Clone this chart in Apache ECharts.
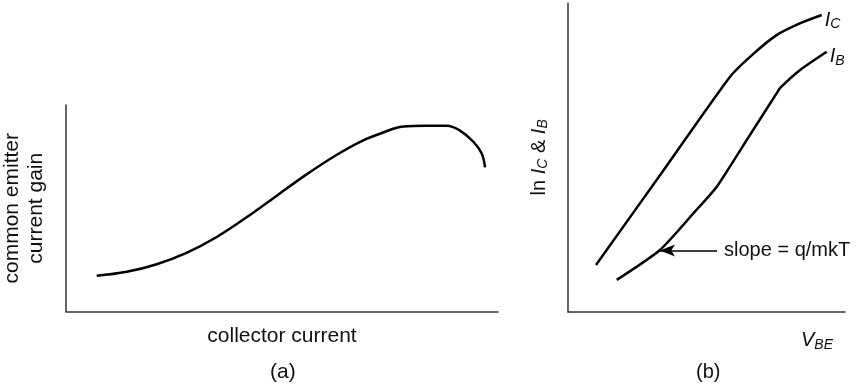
<!DOCTYPE html>
<html>
<head>
<meta charset="utf-8">
<script src="https://cdn.jsdelivr.net/npm/echarts@6/dist/echarts.min.js"></script>
<style>html,body{margin:0;padding:0;background:#fff}#c{width:861px;height:389px}</style>
</head>
<body>
<div id="c"></div>
<script>
// Panel (a): common emitter current gain vs collector current (arbitrary units 0-100)
var gainX = [7.1, 14.05, 21.0, 27.9, 34.9, 41.8, 48.8, 55.7, 62.7, 68.1, 72.7, 78.1, 83.1, 88.1, 91.2, 94.3, 96.2, 97.0];
var gainY = [17.3, 19.2, 22.9, 28.4, 36.1, 45.6, 56.1, 66.4, 75.9, 82.2, 86.1, 89.6, 90.0, 90.0, 87.6, 82.2, 76.6, 69.8];
// Panel (b): ln IC & ln IB vs VBE (arbitrary units 0-100)
var icX = [10.1, 34.3, 58.5, 66.0, 75.3, 83.7, 91.6];
var icY = [15.1, 45.6, 76.1, 82.8, 89.6, 93.4, 96.1];
var ibX = [17.6, 33.2, 45.8, 53.7, 64.5, 75.3, 76.5, 83.8, 93.4];
var ibY = [10.3, 20.0, 32.4, 40.5, 55.6, 70.7, 72.4, 78.3, 84.2];
// Slope annotation arrow (tip, tail) in panel (b) units
var arrowX = [33.2, 53.8];
var arrowY = [19.8, 19.8];

var FONT = 'Liberation Sans';
function pairs(xs, ys){ return xs.map(function(x,i){ return [x, ys[i]]; }); }
var axisLine = {show:true, lineStyle:{color:'#333', width:1.5}};
var hidden = {axisTick:{show:false}, axisLabel:{show:false}, splitLine:{show:false}};
var subRich = {
  n:{fontFamily:FONT, fontSize:20, color:'#111', lineHeight:22, verticalAlign:'middle'},
  i:{fontFamily:FONT, fontSize:20, color:'#111', fontStyle:'italic', lineHeight:22, verticalAlign:'middle'},
  s:{fontFamily:FONT, fontSize:14, color:'#111', fontStyle:'italic', lineHeight:10, verticalAlign:'bottom'}
};

var chart = echarts.init(document.getElementById('c'), null, {renderer:'canvas'});
chart.setOption({
  animation:false,
  backgroundColor:'#fff',
  textStyle:{fontFamily:FONT},
  grid:[
    {left:66, top:105, width:432, height:206.5, containLabel:false, outerBoundsMode:'none'},
    {left:568, top:3, width:277, height:308.7, containLabel:false, outerBoundsMode:'none'}
  ],
  xAxis:[
    Object.assign({type:'value', gridIndex:0, min:0, max:100, axisLine:axisLine,
      name:'collector current', nameLocation:'middle', nameGap:14,
      nameTextStyle:{fontFamily:FONT, fontSize:21, color:'#111', verticalAlign:'top'}}, hidden),
    Object.assign({type:'value', gridIndex:1, min:0, max:100, axisLine:axisLine,
      name:'{i|V}{s|BE}', nameLocation:'end', nameGap:-12,
      nameTextStyle:{align:'right', verticalAlign:'top', padding:[18,0,0,0], rich:subRich}}, hidden)
  ],
  yAxis:[
    Object.assign({type:'value', gridIndex:0, min:0, max:100, axisLine:axisLine,
      name:'common emitter\ncurrent gain', nameLocation:'middle', nameGap:18, nameRotate:90,
      nameTextStyle:{fontFamily:FONT, fontSize:21, color:'#111', lineHeight:24}}, hidden),
    Object.assign({type:'value', gridIndex:1, min:0, max:100, axisLine:axisLine,
      name:'{n|ln }{i|I}{s|C}{n| & }{i|I}{s|B}', nameLocation:'middle', nameGap:18, nameRotate:90,
      nameTextStyle:{rich:subRich}}, hidden)
  ],
  series:[
    {type:'line', xAxisIndex:0, yAxisIndex:0, data:pairs(gainX, gainY), smooth:0.4,
      showSymbol:false, lineStyle:{color:'#000', width:2.5}},
    {type:'line', xAxisIndex:1, yAxisIndex:1, data:pairs(icX, icY), smooth:0.2,
      showSymbol:false, lineStyle:{color:'#000', width:2.5},
      endLabel:{show:true, formatter:'{i|I}{s|C}', distance:3, offset:[0,5], rich:subRich}},
    {type:'line', xAxisIndex:1, yAxisIndex:1, data:pairs(ibX, ibY), smooth:0.2,
      showSymbol:false, lineStyle:{color:'#000', width:2.5},
      endLabel:{show:true, formatter:'{i|I}{s|B}', distance:3, offset:[0,5], rich:subRich},
      markLine:{silent:true, animation:false,
        lineStyle:{color:'#000', width:1.5, type:'solid'},
        label:{show:true, position:'end', distance:7, formatter:'slope = q/mkT',
          fontFamily:FONT, fontSize:20, color:'#111'},
        data:[[{coord:[arrowX[0], arrowY[0]], symbol:'arrow', symbolSize:[9,15]},
               {coord:[arrowX[1], arrowY[1]], symbol:'none'}]]}}
  ],
  graphic:[
    {type:'text', left:270, top:362, style:{text:'(a)', font:'21px "Liberation Sans"', fill:'#111'}},
    {type:'text', left:696, top:362, style:{text:'(b)', font:'20px "Liberation Sans"', fill:'#111'}}
  ]
});
</script>
</body>
</html>
